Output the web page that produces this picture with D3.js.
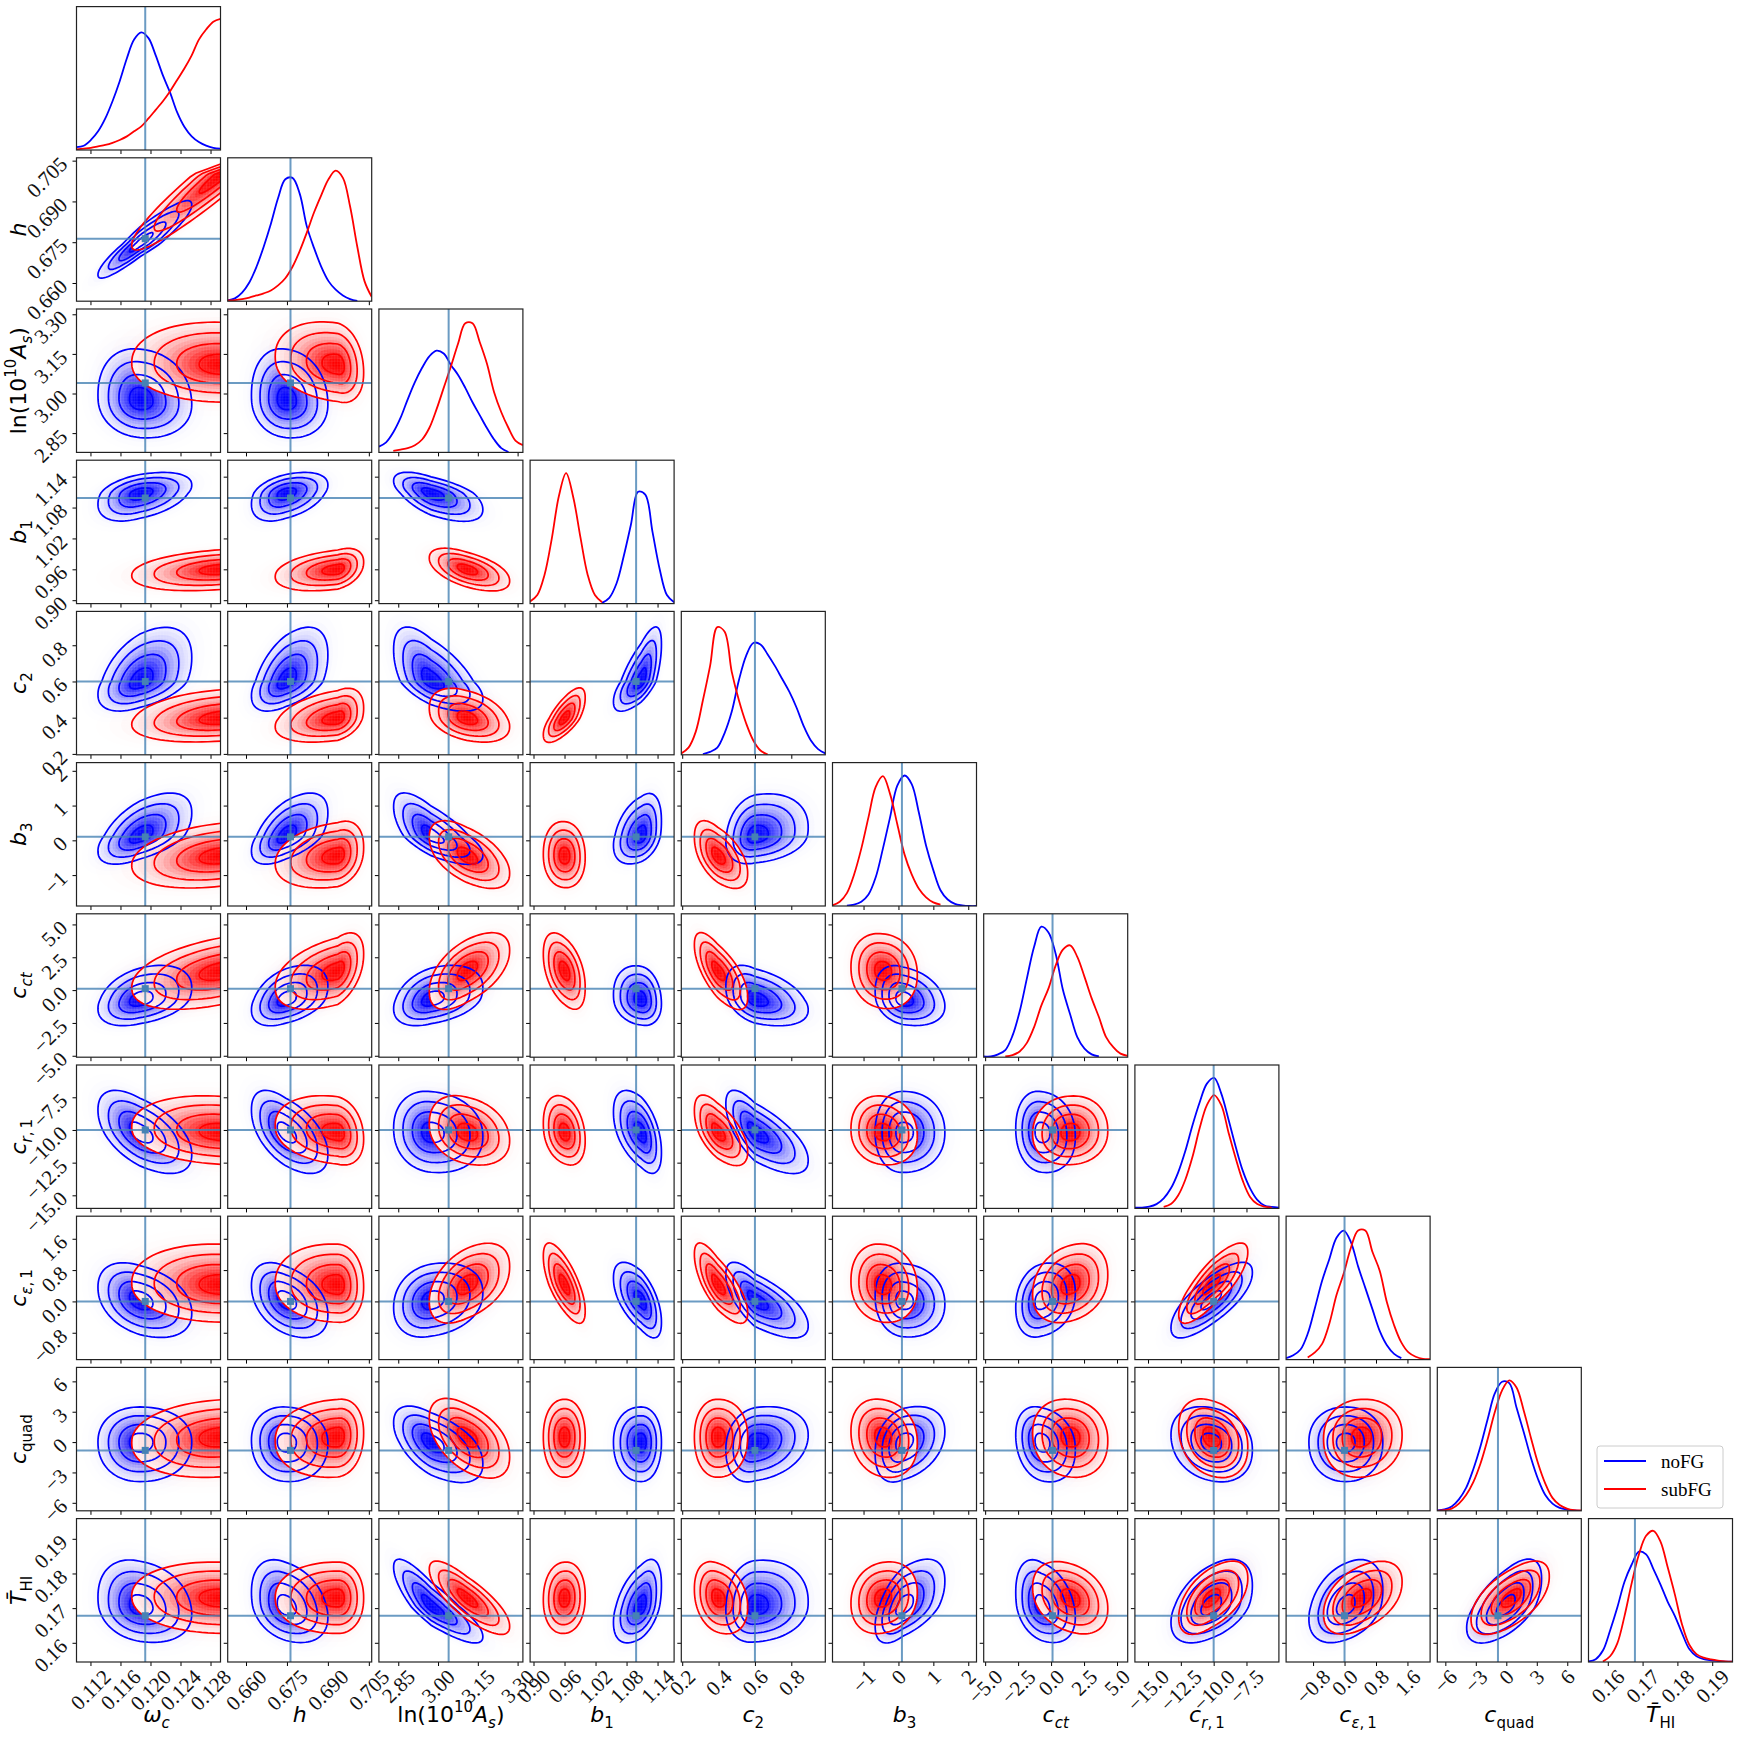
<!DOCTYPE html>
<html lang="en">
<head>
<meta charset="utf-8">
<script src="https://d3js.org/d3.v7.min.js"></script>
<title>noFG vs subFG corner plot</title>
<style>
  body { margin: 0; background: #fff; }
  .tick text { font-family: "Liberation Serif", serif; font-size: 21px; fill: #111; }
  .axislabel { font-family: "DejaVu Sans", sans-serif; font-size: 22px; fill: #000; }
</style>
</head>
<body>
<script>
// axis limits of every parameter
const limits = [[0.11014,0.12933],[0.6533,0.70605],[2.777,3.32],[0.8934,1.172],[0.195,0.987],
                [-1.889,2.236],[-5.11,5.81],[-16,-5.03],[-1.486,2.176],[-6.79,7.38],[0.15446,0.19583]];
const tickValues = [[0.112,0.116,0.120,0.124,0.128],[0.660,0.675,0.690,0.705],[2.85,3.00,3.15,3.30],
                    [0.90,0.96,1.02,1.08,1.14],[0.2,0.4,0.6,0.8],[-1,0,1,2],[-5,-2.5,0,2.5,5],
                    [-15,-12.5,-10,-7.5],[-0.8,0,0.8,1.6],[-6,-3,0,3,6],[0.16,0.17,0.18,0.19]];
const tickLabels = [["0.112","0.116","0.120","0.124","0.128"],["0.660","0.675","0.690","0.705"],["2.85","3.00","3.15","3.30"],
                    ["0.90","0.96","1.02","1.08","1.14"],["0.2","0.4","0.6","0.8"],["\u22121","0","1","2"],
                    ["\u22125.0","\u22122.5","0.0","2.5","5.0"],["\u221215.0","\u221212.5","\u221210.0","\u22127.5"],
                    ["\u22120.8","0.0","0.8","1.6"],["\u22126","\u22123","0","3","6"],["0.16","0.17","0.18","0.19"]];
const truths = [0.1193,0.6763,3.04,1.0985,0.6,0.1,0.11,-10,0,-0.82,0.1678];

// outer contour extent and peak of each parameter: [low, peak, high]
const blueShape = [[0.1130,0.1186,0.1255],[0.662,0.6746,0.690],[2.8325,2.974,3.169],[1.0547,1.108,1.1475],[0.44,0.60,0.893],
                   [-0.667,0.125,1.33],[-2.68,-0.73,1.84],[-13.25,-10.2,-7.05],[-0.906,0.03,0.973],[-3.9,0,3.47],[0.1602,0.1705,0.1838]];
const redShape = [[0.1175,0.1295,0.136],[0.6707,0.6936,0.7031],[2.967,3.108,3.27],[0.919,0.96,1.0],[0.267,0.395,0.56],
                  [-1.36,-0.45,0.54],[-1.4,1.47,4.3],[-12.66,-10.2,-7.4],[-0.533,0.42,1.464],[-3.47,0.52,4.23],[0.1627,0.1729,0.1833]];
// subFG h against omega_c runs off the panel, so its y extent there differs from the h column
const redHOmega = [0.6725,0.700,0.7125];

// tilt of each contour pair, row by row (row parameter against earlier columns)
const blueTilt = [[0.92],[-0.1,-0.1],[0.4,0.4,-0.6],[0.45,0.5,-0.6,0.7],[0.55,0.55,-0.7,0.35,0.2],
                  [0.35,0.4,0.35,-0.15,-0.4,-0.25],[-0.55,-0.55,-0.1,-0.5,-0.7,0,-0.1],
                  [-0.35,-0.4,0.2,-0.6,-0.7,-0.1,0.2,0.75],[0,-0.05,-0.55,0,0.2,0.3,-0.2,-0.2,0],
                  [-0.2,-0.3,-0.85,0.45,0.1,0.55,-0.3,0.45,0.35,0.6]];
const redTilt = [[0.95],[-0.05,-0.2],[0.3,0.35,-0.55],[0.25,0.35,-0.35,0.7],[0.3,0.25,-0.55,-0.05,-0.55],
                 [0.45,0.45,0.55,-0.45,-0.7,-0.1],[-0.15,-0.2,-0.25,-0.25,-0.6,-0.1,0.05],
                 [-0.05,-0.05,0.45,-0.7,-0.75,-0.1,0.25,0.8],[0.15,0.1,-0.5,0,0,-0.15,-0.1,-0.25,0.05],
                 [-0.05,0,-0.8,0.05,-0.25,0.15,-0.3,0.55,0.45,0.6]];

// 1D curves: height in the panel (0..1) at 21 evenly spaced places across the axis, null = nothing drawn
const blueHist = [
 [.02,.03,.07,.13,.22,.34,.48,.64,.77,.82,.78,.66,.52,.40,.26,.16,.095,.055,.03,.015,.01],
 [.005,.02,.06,.13,.24,.38,.54,.72,.85,.86,.75,.52,.37,.24,.14,.08,.04,.015,.002,null,null],
 [.04,.07,.14,.24,.37,.49,.59,.67,.71,.69,.61,.54,.45,.35,.26,.17,.09,.03,.003,null,null],
 [null,null,null,null,null,null,null,null,null,null,.005,.04,.14,.33,.55,.78,.76,.5,.24,.06,.01],
 [null,null,null,.005,.02,.05,.15,.3,.52,.69,.78,.77,.7,.62,.53,.44,.33,.2,.1,.04,.01],
 [null,null,.003,.01,.03,.08,.2,.4,.62,.84,.91,.85,.65,.42,.25,.11,.045,.015,.005,0,0],
 [.005,.005,.02,.05,.15,.32,.55,.77,.91,.87,.72,.47,.3,.14,.06,.02,.005,null,null,null,null],
 [.005,.005,.012,.03,.07,.14,.25,.4,.58,.74,.87,.91,.8,.62,.43,.26,.14,.06,.02,.01,.005],
 [.01,.03,.07,.18,.36,.55,.7,.85,.9,.82,.65,.5,.35,.2,.1,.04,.01,null,null,null,null],
 [.003,.01,.03,.08,.16,.29,.45,.64,.82,.9,.89,.72,.55,.37,.22,.11,.05,.02,.008,.002,0],
 [.005,.02,.08,.22,.38,.56,.68,.77,.75,.65,.54,.42,.32,.2,.09,.04,.02,.012,.007,.003,.002]
];
const redHist = [
 [.005,.01,.015,.025,.035,.05,.07,.095,.13,.165,.22,.28,.34,.41,.49,.57,.66,.77,.84,.895,.915],
 [.005,.008,.015,.025,.04,.055,.075,.11,.16,.24,.35,.48,.62,.74,.85,.91,.86,.66,.38,.14,.03],
 [null,null,.01,.02,.03,.05,.09,.17,.3,.45,.6,.76,.9,.9,.77,.62,.42,.28,.17,.08,.05],
 [.015,.06,.2,.45,.75,.91,.74,.46,.2,.06,.01,null,null,null,null,null,null,null,null,null,null],
 [.01,.05,.16,.38,.62,.89,.86,.58,.38,.22,.1,.03,.002,null,null,null,null,null,null,null,null],
 [.005,.03,.09,.22,.4,.62,.83,.905,.78,.57,.36,.22,.12,.06,.025,.01,null,null,null,null,null],
 [null,null,null,.005,.015,.04,.1,.21,.36,.48,.64,.75,.78,.7,.56,.41,.28,.14,.07,.025,.01],
 [null,null,null,null,.01,.03,.09,.2,.36,.56,.72,.79,.72,.53,.35,.19,.08,.03,.012,.005,null],
 [null,null,null,.015,.05,.11,.25,.45,.6,.78,.9,.9,.75,.62,.4,.24,.12,.05,.02,.005,.003],
 [0,.004,.015,.05,.11,.2,.33,.5,.69,.84,.91,.86,.7,.51,.33,.19,.09,.04,.015,.004,.002],
 [null,null,.003,.04,.13,.32,.55,.75,.88,.915,.84,.66,.47,.26,.12,.055,.03,.018,.01,.005,.003]
];

// axis names as pieces of text: i = italic, sub / sup = shifted down / up
const names = [
 [{t:"\u03c9",i:1},{t:"c",i:1,sub:1}],
 [{t:"h",i:1}],
 [{t:"ln(10"},{t:"10",sup:1},{t:"A",i:1},{t:"s",i:1,sub:1},{t:")"}],
 [{t:"b",i:1},{t:"1",sub:1}],
 [{t:"c",i:1},{t:"2",sub:1}],
 [{t:"b",i:1},{t:"3",sub:1}],
 [{t:"c",i:1},{t:"ct",i:1,sub:1}],
 [{t:"c",i:1},{t:"r",i:1,sub:1},{t:",\u20091",sub:1}],
 [{t:"c",i:1},{t:"\u03b5",i:1,sub:1},{t:",\u20091",sub:1}],
 [{t:"c",i:1},{t:"quad",sub:1}],
 [{t:"T\u0304",i:1},{t:"HI",sub:1}]
];

const series = [
  {name: "noFG", color: "#0000ff", rgb: "0,0,255", shape: blueShape, tilt: blueTilt, hist: blueHist},
  {name: "subFG", color: "#ff0000", rgb: "255,0,0", shape: redShape, tilt: redTilt, hist: redHist}
];

const levels = [1, 0.75, 0.5, 0.25];       // 2, 1.5, 1 and 0.5 sigma contours
const haloSteps = [1.6, 1.4, 1.25, 1.12];
const rampSteps = d3.range(1, 0, -0.07);

const size = 1738, n = limits.length;
const left0 = 76.5, top0 = 6.6, pitch = 151.2, panelW = 144, panelH = 143.4;
const lineColor = "#4682b4";

const svg = d3.select("body").append("svg").attr("width", size).attr("height", size);

const xScales = limits.map(d => d3.scaleLinear().domain(d).range([0, panelW]));
const yScales = limits.map(d => d3.scaleLinear().domain(d).range([panelH, 0]));

function bend(c) { return Math.sign(c) * Math.pow(Math.abs(c), 0.92); }

// one closed contour of a series in the panel (col across, row up)
function contourPath(s, col, row, r) {
  const rho = s.tilt[row - 1][col];
  const a = s.shape[col];
  const b = (s.name === "subFG" && row === 1 && col === 0) ? redHOmega : s.shape[row];
  const pts = d3.range(0, 2 * Math.PI, Math.PI / 48).map(function(t) {
    const u = r * bend(Math.cos(t)), v = r * bend(Math.sin(t));
    const w = rho * u + Math.sqrt(1 - rho * rho) * v;
    const px = u >= 0 ? a[1] + u * (a[2] - a[1]) : a[1] + u * (a[1] - a[0]);
    const py = w >= 0 ? b[1] + w * (b[2] - b[1]) : b[1] + w * (b[1] - b[0]);
    return [xScales[col](px), yScales[row](py)];
  });
  return d3.line().curve(d3.curveLinearClosed)(pts);
}

function density(r) { return Math.exp(-2.8 * r * r); }

function drawFill(g, s, col, row) {
  // faint halo outside the last contour
  let prev = 0;
  haloSteps.forEach(function(r) {
    const target = density(r);
    g.append("path").attr("d", contourPath(s, col, row, r))
      .attr("fill", "rgb(" + s.rgb + ")").attr("fill-opacity", 1 - (1 - target) / (1 - prev));
    prev = target;
  });
  // white below the density, this is what hides the other series
  g.append("path").attr("d", contourPath(s, col, row, 1)).attr("fill", "#fff");
  prev = 0;
  rampSteps.forEach(function(r) {
    const target = density(Math.max(r - 0.035, 0));
    g.append("path").attr("d", contourPath(s, col, row, r))
      .attr("fill", "rgb(" + s.rgb + ")").attr("fill-opacity", 1 - (1 - target) / (1 - prev));
    prev = target;
  });
}

function drawLines(g, s, col, row) {
  levels.forEach(function(r) {
    g.append("path").attr("d", contourPath(s, col, row, r))
      .attr("fill", "none").attr("stroke", s.color).attr("stroke-width", 1.7);
  });
}

function drawHist(g, s, i) {
  const y = d3.scaleLinear().domain([0, 1]).range([panelH, 0]);
  const lim = limits[i];
  const line = d3.line()
    .defined(d => d[1] !== null)
    .x(d => xScales[i](d[0]))
    .y(d => y(d[1]))
    .curve(d3.curveCatmullRom);
  g.append("path").attr("d", line(s.hist[i].map((d, k) => [lim[0] + (lim[1] - lim[0]) * k / 20, d])))
    .attr("fill", "none").attr("stroke", s.color).attr("stroke-width", 1.8);
}

function writeName(sel, parts) {
  let shift = 0;
  parts.forEach(function(p) {
    const to = p.sub ? 6 : (p.sup ? -10 : 0);
    sel.append("tspan")
      .attr("dy", to - shift)
      .attr("font-size", (p.sub || p.sup) ? 15 : 22)
      .attr("font-style", p.i ? "italic" : "normal")
      .text(p.t);
    shift = to;
  });
}

// tick labels are turned 45 degrees and hung below / left of their tick
function turnLabels(axisG, horizontal) {
  axisG.selectAll(".tick text").each(function() {
    const t = d3.select(this);
    const w = this.getComputedTextLength();
    const half = (w + 13) * Math.SQRT1_2 / 2;
    t.attr("text-anchor", "middle").attr("dy", "0.32em");
    if (horizontal) {
      t.attr("x", 0).attr("y", 7 + half)
       .attr("transform", "rotate(-45 0 " + (7 + half) + ")");
    } else {
      const cx = -8 - half, cy = half - 5;
      t.attr("x", cx).attr("y", cy)
       .attr("transform", "rotate(-45 " + cx + " " + cy + ")");
    }
  });
}

const defs = svg.append("defs");
defs.append("clipPath").attr("id", "panelClip")
  .append("rect").attr("width", panelW).attr("height", panelH);
// the density is a coarse pixel grid, its cell seams show as thin pale lines
const seams = defs.append("pattern").attr("id", "seams")
  .attr("patternUnits", "userSpaceOnUse").attr("width", 2.88).attr("height", 2.88);
seams.append("path").attr("d", "M0,0H2.88M0,0V2.88")
  .attr("stroke", "#fff").attr("stroke-opacity", 0.18).attr("stroke-width", 0.7);

for (let row = 0; row < n; row++) {
  for (let col = 0; col <= row; col++) {
    const panel = svg.append("g")
      .attr("transform", "translate(" + (left0 + col * pitch) + "," + (top0 + row * pitch) + ")");
    const inner = panel.append("g").attr("clip-path", "url(#panelClip)");

    if (row === col) {
      series.forEach(s => drawHist(inner, s, col));
      inner.append("line")
        .attr("x1", xScales[col](truths[col])).attr("x2", xScales[col](truths[col]))
        .attr("y1", 0).attr("y2", panelH)
        .attr("stroke", lineColor).attr("stroke-opacity", 0.8).attr("stroke-width", 2);
    } else {
      series.forEach(s => drawFill(inner, s, col, row));
      inner.append("rect").attr("width", panelW).attr("height", panelH).attr("fill", "url(#seams)");
      series.forEach(s => drawLines(inner, s, col, row));
      inner.append("line")
        .attr("x1", xScales[col](truths[col])).attr("x2", xScales[col](truths[col]))
        .attr("y1", 0).attr("y2", panelH)
        .attr("stroke", lineColor).attr("stroke-opacity", 0.8).attr("stroke-width", 2);
      inner.append("line")
        .attr("x1", 0).attr("x2", panelW)
        .attr("y1", yScales[row](truths[row])).attr("y2", yScales[row](truths[row]))
        .attr("stroke", lineColor).attr("stroke-opacity", 0.8).attr("stroke-width", 2);
      inner.append("rect")
        .attr("x", xScales[col](truths[col]) - 3.5).attr("y", yScales[row](truths[row]) - 3.5)
        .attr("width", 7).attr("height", 7).attr("fill", lineColor);
    }

    // bottom axis, labels only on the last row
    const xAxis = d3.axisBottom(xScales[col]).tickValues(tickValues[col]).tickSizeOuter(0).tickSize(4)
      .tickFormat((d, k) => row === n - 1 ? tickLabels[col][k] : "");
    const xg = panel.append("g").attr("transform", "translate(0," + panelH + ")").call(xAxis);
    xg.select(".domain").remove();
    if (row === n - 1) turnLabels(xg, true);

    // left axis, labels only on the first column
    if (row !== col) {
      const yAxis = d3.axisLeft(yScales[row]).tickValues(tickValues[row]).tickSizeOuter(0).tickSize(4)
        .tickFormat((d, k) => col === 0 ? tickLabels[row][k] : "");
      const yg = panel.append("g").call(yAxis);
      yg.select(".domain").remove();
      if (col === 0) turnLabels(yg, false);
    }

    panel.append("rect").attr("width", panelW).attr("height", panelH)
      .attr("fill", "none").attr("stroke", "#222").attr("stroke-width", 1.2);
  }
}

// axis names
names.forEach(function(parts, i) {
  const bx = left0 + i * pitch + panelW / 2 + (i === 0 ? 8 : 0);
  const bottom = svg.append("text").attr("class", "axislabel")
    .attr("text-anchor", "middle").attr("x", bx).attr("y", 1722);
  writeName(bottom, parts);
  if (i > 0) {
    const cy = top0 + i * pitch + panelH / 2;
    const side = svg.append("text").attr("class", "axislabel")
      .attr("text-anchor", "middle")
      .attr("transform", "translate(26," + cy + ") rotate(-90)");
    writeName(side, parts);
  }
});

// legend
const legend = svg.append("g").attr("transform", "translate(1597,1446)");
legend.append("rect").attr("width", 126).attr("height", 62).attr("rx", 3)
  .attr("fill", "#fff").attr("stroke", "#ccc");
series.forEach(function(s, i) {
  const y = 15 + i * 28;
  legend.append("line").attr("x1", 7).attr("x2", 49).attr("y1", y).attr("y2", y)
    .attr("stroke", s.color).attr("stroke-width", 1.8);
  legend.append("text").attr("x", 64).attr("y", y + 7)
    .attr("font-family", "Liberation Serif, serif").attr("font-size", 19).text(s.name);
});
</script>
</body>
</html>
